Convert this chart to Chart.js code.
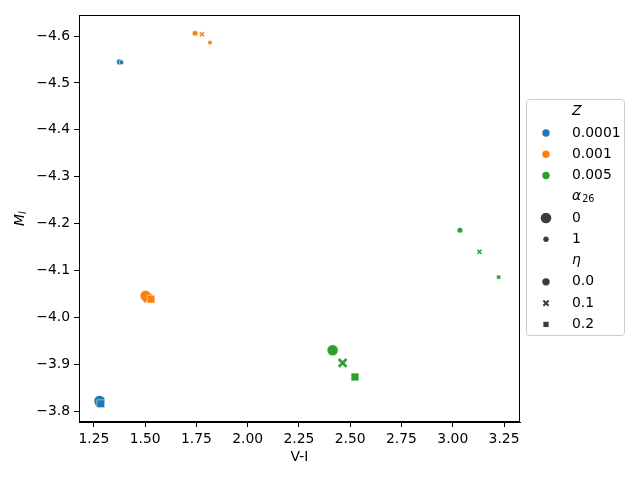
<!DOCTYPE html>
<html>
<head>
<meta charset="utf-8">
<script src="https://cdn.jsdelivr.net/npm/chart.js@4/dist/chart.umd.min.js"></script>
<style>
  html, body { margin: 0; padding: 0; background: #fff; }
  #wrap { width: 640px; height: 480px; }
</style>
</head>
<body>
<div id="wrap"><canvas id="chart" width="640" height="480"></canvas></div>
<script>
// Legend groups
const zLabels = ['0.0001', '0.001', '0.005'];
const alphaLabels = ['0', '1'];
const etaLabels = ['0.0', '0.1', '0.2'];

// per Z: alpha=0 (eta 0.0, 0.1, 0.2) then alpha=1 (eta 0.0, 0.1, 0.2)
const pointAlpha = [0, 0, 0, 1, 1, 1];
const pointEta = [0, 1, 2, 0, 1, 2];
const viBlue = [1.277, 1.279, 1.283, 1.374, 1.377, 1.384];
const miBlue = [-3.822, -3.820, -3.816, -4.545, -4.545, -4.544];
const viOrange = [1.502, 1.513, 1.528, 1.743, 1.777, 1.816];
const miOrange = [-4.046, -4.041, -4.039, -4.606, -4.604, -4.586];
const viGreen = [2.414, 2.463, 2.523, 3.035, 3.130, 3.224];
const miGreen = [-3.930, -3.903, -3.873, -4.186, -4.140, -4.086];

const xTicks = [1.25, 1.5, 1.75, 2.0, 2.25, 2.5, 2.75, 3.0, 3.25];
const yTicks = [-4.6, -4.5, -4.4, -4.3, -4.2, -4.1, -4.0, -3.9, -3.8];

const zColors = ['#1f77b4', '#ff7f0e', '#2ca02c'];
const markerStyles = ['circle', 'crossRot', 'rect'];
const markerSizes = [5.5, 2.8];
const xWidths = [2.6, 1.5];
const FONT = 'DejaVu Sans';
const FS = 13.9;

const viAll = [viBlue, viOrange, viGreen];
const miAll = [miBlue, miOrange, miGreen];

Chart.defaults.font.family = FONT;
Chart.defaults.font.size = FS;
Chart.defaults.color = '#000';

function drawMarker(ctx, style, x, y, r, color) {
    ctx.save();
    ctx.fillStyle = color;
    ctx.strokeStyle = color;
    if (style === 'circle') {
        ctx.beginPath();
        ctx.arc(x, y, r, 0, Math.PI * 2);
        ctx.fill();
    } else if (style === 'rect') {
        const s = r * Math.SQRT1_2;
        ctx.fillRect(x - s, y - s, 2 * s, 2 * s);
    } else {
        const o = r * Math.SQRT1_2;
        ctx.lineWidth = 2;
        ctx.beginPath();
        ctx.moveTo(x - o, y - o); ctx.lineTo(x + o, y + o);
        ctx.moveTo(x - o, y + o); ctx.lineTo(x + o, y - o);
        ctx.stroke();
    }
    ctx.restore();
}

// frame, axis label with subscript and the grouped legend
const extrasPlugin = {
    id: 'extras',
    afterDraw(chart) {
        const ctx = chart.ctx;
        const a = chart.chartArea;
        ctx.save();
        ctx.strokeStyle = '#000';
        ctx.lineWidth = 1;
        ctx.strokeRect(a.left + 0.5, a.top + 0.5, a.right - a.left - 1, a.bottom - a.top - 1);

        // y axis title M_I
        ctx.translate(20, (a.top + a.bottom) / 2);
        ctx.rotate(-Math.PI / 2);
        ctx.fillStyle = '#000';
        ctx.textBaseline = 'middle';
        ctx.font = 'italic ' + FS + 'px ' + FONT;
        const mw = ctx.measureText('M').width;
        ctx.font = 'italic 9.7px ' + FONT;
        const iw = ctx.measureText('I').width;
        const start = -(mw + iw) / 2;
        ctx.font = 'italic ' + FS + 'px ' + FONT;
        ctx.textAlign = 'left';
        ctx.fillText('M', start, 0);
        ctx.font = 'italic 9.7px ' + FONT;
        ctx.fillText('I', start + mw, 3);
        ctx.restore();

        // legend
        ctx.save();
        ctx.beginPath();
        ctx.roundRect(526.5, 99.5, 98, 236, 3);
        ctx.fillStyle = 'rgba(255,255,255,0.8)';
        ctx.fill();
        ctx.strokeStyle = '#cccccc';
        ctx.lineWidth = 1;
        ctx.stroke();

        const grey = '#3b3b3b';
        const rows = [{ title: 'Z' }];
        zLabels.forEach((l, i) => rows.push({ label: l, style: 'circle', r: 3.7, color: zColors[i] }));
        rows.push({ title: '\u03b1', sub: '26' });
        alphaLabels.forEach((l, i) => rows.push({ label: l, style: 'circle', r: i === 0 ? 5.3 : 2.7, color: grey }));
        rows.push({ title: '\u03b7' });
        etaLabels.forEach((l, i) => rows.push({ label: l, style: markerStyles[i], r: 3.7, color: grey }));

        const textX = 572;
        const markX = 546;
        ctx.textBaseline = 'middle';
        ctx.textAlign = 'left';
        ctx.fillStyle = '#000';
        rows.forEach((row, k) => {
            const y = 111.7 + k * 21.27;
            if (row.title) {
                ctx.font = 'italic ' + FS + 'px ' + FONT;
                ctx.fillText(row.title, textX, y);
                if (row.sub) {
                    const w = ctx.measureText(row.title).width;
                    ctx.font = '9.7px ' + FONT;
                    ctx.fillText(row.sub, textX + w + 1, y + 3);
                }
            } else {
                drawMarker(ctx, row.style, markX, y, row.r, row.color);
                ctx.fillStyle = '#000';
                ctx.font = FS + 'px ' + FONT;
                ctx.fillText(row.label, textX, y);
            }
        });
        ctx.restore();
    }
};

const datasets = zLabels.map((z, i) => ({
    label: z,
    data: viAll[i].map((x, j) => ({ x: x, y: miAll[i][j] })),
    backgroundColor: zColors[i],
    pointStyle: c => markerStyles[pointEta[c.dataIndex || 0]],
    pointRadius: c => markerSizes[pointAlpha[c.dataIndex || 0]],
    borderColor: c => pointEta[c.dataIndex || 0] === 1 ? zColors[i] : '#ffffff',
    borderWidth: c => pointEta[c.dataIndex || 0] === 1 ? xWidths[pointAlpha[c.dataIndex || 0]] : 0.5
}));

new Chart(document.getElementById('chart'), {
    type: 'scatter',
    data: { datasets: datasets },
    options: {
        responsive: false,
        animation: false,
        devicePixelRatio: 1,
        layout: { padding: { top: 15, right: 120, left: 0, bottom: 0 } },
        plugins: {
            legend: { display: false },
            tooltip: { enabled: false }
        },
        scales: {
            x: {
                type: 'linear',
                min: 1.177,
                max: 3.328,
                afterBuildTicks: s => { s.ticks = xTicks.map(v => ({ value: v })); },
                afterFit: s => { s.height = 58; },
                ticks: {
                    callback: v => v.toFixed(2),
                    padding: 4,
                    maxRotation: 0,
                    autoSkip: false
                },
                grid: { drawOnChartArea: false, drawTicks: true, tickLength: 5, color: '#000' },
                border: { color: '#000' },
                title: { display: true, text: 'V-I', padding: { top: 0, bottom: 14 } }
            },
            y: {
                type: 'linear',
                reverse: true,
                min: -4.645,
                max: -3.777,
                afterBuildTicks: s => { s.ticks = yTicks.map(v => ({ value: v })); },
                afterFit: s => { s.width = 79; },
                ticks: {
                    callback: v => (v < 0 ? '\u2212' : '') + Math.abs(v).toFixed(1),
                    padding: 4,
                    autoSkip: false
                },
                grid: { drawOnChartArea: false, drawTicks: true, tickLength: 5, color: '#000' },
                border: { color: '#000' }
            }
        }
    },
    plugins: [extrasPlugin]
});
</script>
</body>
</html>
